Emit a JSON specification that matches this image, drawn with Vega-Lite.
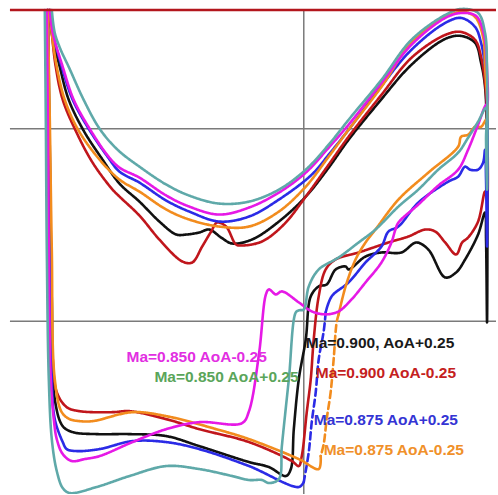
{
"$schema": "https://vega.github.io/schema/vega-lite/v6.json",
"width": 498, "height": 495, "padding": 0,
"autosize": {"type": "fit", "contains": "padding"},
"config": {"view": {"stroke": null}},
"datasets": {
"grid": [
{"x":10,"x2":498,"y":129,"y2":129},
{"x":10,"x2":498,"y":322,"y2":322},
{"x":305,"x2":305,"y":10,"y2":495}
],
"top": [{"x":10,"x2":498,"y":10,"y2":10}],
"labels": [
{"t":"Ma=0.850 AoA-0.25","x":127,"y":358},
{"t":"Ma=0.850 AoA+0.25","x":155,"y":378},
{"t":"Ma=0.900, AoA+0.25","x":307,"y":344},
{"t":"Ma=0.900 AoA-0.25","x":317,"y":374},
{"t":"Ma=0.875 AoA+0.25","x":315,"y":421},
{"t":"Ma=0.875 AoA-0.25","x":325,"y":451}
],
"curves": [
{"s":"K","g":"K1","d":"solid","x":50,"y":10},{"s":"K","g":"K1","d":"solid","x":52,"y":33},{"s":"K","g":"K1","d":"solid","x":60,"y":67},{"s":"K","g":"K1","d":"solid","x":69,"y":100},{"s":"K","g":"K1","d":"solid","x":84,"y":131},{"s":"K","g":"K1","d":"solid","x":103,"y":160},{"s":"K","g":"K1","d":"solid","x":120,"y":184},{"s":"K","g":"K1","d":"solid","x":140,"y":202},{"s":"K","g":"K1","d":"solid","x":160,"y":222},{"s":"K","g":"K1","d":"solid","x":177,"y":235},{"s":"K","g":"K1","d":"solid","x":187,"y":235},{"s":"K","g":"K1","d":"solid","x":200,"y":233},{"s":"K","g":"K1","d":"solid","x":210,"y":230},{"s":"K","g":"K1","d":"solid","x":222,"y":238},{"s":"K","g":"K1","d":"solid","x":233,"y":244},{"s":"K","g":"K1","d":"solid","x":253,"y":240},{"s":"K","g":"K1","d":"solid","x":280,"y":222},{"s":"K","g":"K1","d":"solid","x":307,"y":197},{"s":"K","g":"K1","d":"solid","x":330,"y":168},{"s":"K","g":"K1","d":"solid","x":350,"y":140},{"s":"K","g":"K1","d":"solid","x":380,"y":103},{"s":"K","g":"K1","d":"solid","x":413,"y":65},{"s":"K","g":"K1","d":"solid","x":447,"y":39},{"s":"K","g":"K1","d":"solid","x":463,"y":36},{"s":"K","g":"K1","d":"solid","x":477,"y":43},{"s":"K","g":"K1","d":"solid","x":483,"y":63},{"s":"K","g":"K1","d":"solid","x":487,"y":87},{"s":"K","g":"K1","d":"solid","x":489,"y":150},{"s":"K","g":"K1","d":"solid","x":489,"y":323},{"s":"K","g":"K1","d":"solid","x":488,"y":240},{"s":"K","g":"K1","d":"solid","x":487,"y":213},{"s":"K","g":"K1","d":"solid","x":480,"y":235},{"s":"K","g":"K1","d":"solid","x":467,"y":260},{"s":"K","g":"K1","d":"solid","x":458,"y":273},{"s":"K","g":"K1","d":"solid","x":447,"y":278},{"s":"K","g":"K1","d":"solid","x":430,"y":250},{"s":"K","g":"K1","d":"solid","x":418,"y":243},{"s":"K","g":"K1","d":"solid","x":403,"y":253},{"s":"K","g":"K1","d":"solid","x":383,"y":253},{"s":"K","g":"K1","d":"solid","x":367,"y":257},{"s":"K","g":"K1","d":"solid","x":350,"y":270},{"s":"K","g":"K1","d":"solid","x":347,"y":267},{"s":"K","g":"K1","d":"solid","x":337,"y":270},{"s":"K","g":"K1","d":"solid","x":328,"y":285},{"s":"K","g":"K1","d":"solid","x":320,"y":287},{"s":"K","g":"K1","d":"solid","x":312,"y":297},{"s":"K","g":"K1","d":"solid","x":307,"y":340},{"s":"K","g":"K1","d":"solid","x":300,"y":380},{"s":"K","g":"K1","d":"solid","x":295,"y":430},{"s":"K","g":"K1","d":"solid","x":292,"y":470},{"s":"K","g":"K1","d":"solid","x":287,"y":477},{"s":"K","g":"K1","d":"solid","x":270,"y":468},{"s":"K","g":"K1","d":"solid","x":250,"y":463},{"s":"K","g":"K1","d":"solid","x":200,"y":447},{"s":"K","g":"K1","d":"solid","x":167,"y":437},{"s":"K","g":"K1","d":"solid","x":130,"y":435},{"s":"K","g":"K1","d":"solid","x":97,"y":435},{"s":"K","g":"K1","d":"solid","x":73,"y":433},{"s":"K","g":"K1","d":"solid","x":63,"y":427},{"s":"K","g":"K1","d":"solid","x":55,"y":400},{"s":"K","g":"K1","d":"solid","x":52,"y":300},{"s":"K","g":"K1","d":"solid","x":50,"y":150},{"s":"K","g":"K1","d":"solid","x":48,"y":10},

{"s":"R","g":"R1","d":"solid","x":50,"y":10},{"s":"R","g":"R1","d":"solid","x":52,"y":33},{"s":"R","g":"R1","d":"solid","x":56,"y":67},{"s":"R","g":"R1","d":"solid","x":63,"y":100},{"s":"R","g":"R1","d":"solid","x":76,"y":131},{"s":"R","g":"R1","d":"solid","x":93,"y":163},{"s":"R","g":"R1","d":"solid","x":113,"y":190},{"s":"R","g":"R1","d":"solid","x":120,"y":197},{"s":"R","g":"R1","d":"solid","x":140,"y":216},{"s":"R","g":"R1","d":"solid","x":160,"y":240},{"s":"R","g":"R1","d":"solid","x":183,"y":262},{"s":"R","g":"R1","d":"solid","x":193,"y":263},{"s":"R","g":"R1","d":"solid","x":203,"y":247},{"s":"R","g":"R1","d":"solid","x":212,"y":232},{"s":"R","g":"R1","d":"solid","x":218,"y":223},{"s":"R","g":"R1","d":"solid","x":227,"y":227},{"s":"R","g":"R1","d":"solid","x":237,"y":245},{"s":"R","g":"R1","d":"solid","x":243,"y":246},{"s":"R","g":"R1","d":"solid","x":263,"y":242},{"s":"R","g":"R1","d":"solid","x":285,"y":225},{"s":"R","g":"R1","d":"solid","x":307,"y":197},{"s":"R","g":"R1","d":"solid","x":330,"y":165},{"s":"R","g":"R1","d":"solid","x":350,"y":137},{"s":"R","g":"R1","d":"solid","x":383,"y":95},{"s":"R","g":"R1","d":"solid","x":413,"y":58},{"s":"R","g":"R1","d":"solid","x":447,"y":35},{"s":"R","g":"R1","d":"solid","x":463,"y":32},{"s":"R","g":"R1","d":"solid","x":477,"y":40},{"s":"R","g":"R1","d":"solid","x":483,"y":57},{"s":"R","g":"R1","d":"solid","x":487,"y":83},{"s":"R","g":"R1","d":"solid","x":489,"y":120},{"s":"R","g":"R1","d":"solid","x":489,"y":200},{"s":"R","g":"R1","d":"solid","x":487,"y":192},{"s":"R","g":"R1","d":"solid","x":480,"y":222},{"s":"R","g":"R1","d":"solid","x":470,"y":238},{"s":"R","g":"R1","d":"solid","x":464,"y":243},{"s":"R","g":"R1","d":"solid","x":458,"y":255},{"s":"R","g":"R1","d":"solid","x":447,"y":243},{"s":"R","g":"R1","d":"solid","x":437,"y":232},{"s":"R","g":"R1","d":"solid","x":427,"y":230},{"s":"R","g":"R1","d":"solid","x":410,"y":237},{"s":"R","g":"R1","d":"solid","x":390,"y":243},{"s":"R","g":"R1","d":"solid","x":360,"y":253},{"s":"R","g":"R1","d":"solid","x":337,"y":260},{"s":"R","g":"R1","d":"solid","x":327,"y":270},{"s":"R","g":"R1","d":"solid","x":320,"y":297},{"s":"R","g":"R1","d":"solid","x":315,"y":340},{"s":"R","g":"R1","d":"solid","x":312,"y":380},{"s":"R","g":"R1","d":"solid","x":308,"y":413},{"s":"R","g":"R1","d":"solid","x":303,"y":457},{"s":"R","g":"R1","d":"solid","x":300,"y":467},{"s":"R","g":"R1","d":"solid","x":293,"y":462},{"s":"R","g":"R1","d":"solid","x":250,"y":443},{"s":"R","g":"R1","d":"solid","x":200,"y":430},{"s":"R","g":"R1","d":"solid","x":167,"y":420},{"s":"R","g":"R1","d":"solid","x":130,"y":412},{"s":"R","g":"R1","d":"solid","x":113,"y":413},{"s":"R","g":"R1","d":"solid","x":80,"y":412},{"s":"R","g":"R1","d":"solid","x":67,"y":408},{"s":"R","g":"R1","d":"solid","x":57,"y":393},{"s":"R","g":"R1","d":"solid","x":53,"y":360},{"s":"R","g":"R1","d":"solid","x":51,"y":250},{"s":"R","g":"R1","d":"solid","x":49,"y":120},{"s":"R","g":"R1","d":"solid","x":48,"y":10},

{"s":"B","g":"B1","d":"solid","x":50,"y":10},{"s":"B","g":"B1","d":"solid","x":53,"y":33},{"s":"B","g":"B1","d":"solid","x":62,"y":67},{"s":"B","g":"B1","d":"solid","x":73,"y":100},{"s":"B","g":"B1","d":"solid","x":89,"y":129},{"s":"B","g":"B1","d":"solid","x":108,"y":157},{"s":"B","g":"B1","d":"solid","x":120,"y":172},{"s":"B","g":"B1","d":"solid","x":140,"y":183},{"s":"B","g":"B1","d":"solid","x":167,"y":201},{"s":"B","g":"B1","d":"solid","x":190,"y":212},{"s":"B","g":"B1","d":"solid","x":220,"y":222},{"s":"B","g":"B1","d":"solid","x":250,"y":217},{"s":"B","g":"B1","d":"solid","x":280,"y":200},{"s":"B","g":"B1","d":"solid","x":313,"y":175},{"s":"B","g":"B1","d":"solid","x":330,"y":155},{"s":"B","g":"B1","d":"solid","x":350,"y":130},{"s":"B","g":"B1","d":"solid","x":380,"y":90},{"s":"B","g":"B1","d":"solid","x":413,"y":50},{"s":"B","g":"B1","d":"solid","x":447,"y":23},{"s":"B","g":"B1","d":"solid","x":463,"y":18},{"s":"B","g":"B1","d":"solid","x":477,"y":27},{"s":"B","g":"B1","d":"solid","x":483,"y":43},{"s":"B","g":"B1","d":"solid","x":487,"y":67},{"s":"B","g":"B1","d":"solid","x":489,"y":100},{"s":"B","g":"B1","d":"solid","x":489,"y":247},{"s":"B","g":"B1","d":"solid","x":488,"y":180},{"s":"B","g":"B1","d":"solid","x":487,"y":150},{"s":"B","g":"B1","d":"solid","x":485,"y":163},{"s":"B","g":"B1","d":"solid","x":480,"y":170},{"s":"B","g":"B1","d":"solid","x":472,"y":170},{"s":"B","g":"B1","d":"solid","x":467,"y":167},{"s":"B","g":"B1","d":"solid","x":460,"y":177},{"s":"B","g":"B1","d":"solid","x":450,"y":182},{"s":"B","g":"B1","d":"solid","x":420,"y":203},{"s":"B","g":"B1","d":"solid","x":400,"y":227},{"s":"B","g":"B1","d":"solid","x":390,"y":232},{"s":"B","g":"B1","d":"solid","x":383,"y":247},{"s":"B","g":"B1","d":"solid","x":367,"y":263},{"s":"B","g":"B1","d":"solid","x":350,"y":283},{"s":"B","g":"B1","d":"solid","x":333,"y":297},{"s":"B","g":"B1","d":"solid","x":327,"y":313},
{"s":"B","g":"B2","d":"dash","x":327,"y":313},{"s":"B","g":"B2","d":"dash","x":325,"y":332},{"s":"B","g":"B2","d":"dash","x":320,"y":360},{"s":"B","g":"B2","d":"dash","x":317,"y":393},{"s":"B","g":"B2","d":"dash","x":313,"y":423},{"s":"B","g":"B2","d":"dash","x":310,"y":453},{"s":"B","g":"B2","d":"dash","x":305,"y":483},
{"s":"B","g":"B3","d":"solid","x":305,"y":483},{"s":"B","g":"B3","d":"solid","x":300,"y":488},{"s":"B","g":"B3","d":"solid","x":250,"y":467},{"s":"B","g":"B3","d":"solid","x":200,"y":450},{"s":"B","g":"B3","d":"solid","x":167,"y":443},{"s":"B","g":"B3","d":"solid","x":133,"y":442},{"s":"B","g":"B3","d":"solid","x":100,"y":450},{"s":"B","g":"B3","d":"solid","x":77,"y":452},{"s":"B","g":"B3","d":"solid","x":67,"y":450},{"s":"B","g":"B3","d":"solid","x":63,"y":443},{"s":"B","g":"B3","d":"solid","x":55,"y":420},{"s":"B","g":"B3","d":"solid","x":52,"y":380},{"s":"B","g":"B3","d":"solid","x":50,"y":250},{"s":"B","g":"B3","d":"solid","x":49,"y":120},{"s":"B","g":"B3","d":"solid","x":48,"y":10},

{"s":"O","g":"O1","d":"solid","x":50,"y":10},{"s":"O","g":"O1","d":"solid","x":52,"y":33},{"s":"O","g":"O1","d":"solid","x":57,"y":67},{"s":"O","g":"O1","d":"solid","x":65,"y":100},{"s":"O","g":"O1","d":"solid","x":79,"y":131},{"s":"O","g":"O1","d":"solid","x":100,"y":160},{"s":"O","g":"O1","d":"solid","x":120,"y":180},{"s":"O","g":"O1","d":"solid","x":140,"y":192},{"s":"O","g":"O1","d":"solid","x":167,"y":210},{"s":"O","g":"O1","d":"solid","x":190,"y":220},{"s":"O","g":"O1","d":"solid","x":220,"y":227},{"s":"O","g":"O1","d":"solid","x":250,"y":227},{"s":"O","g":"O1","d":"solid","x":280,"y":212},{"s":"O","g":"O1","d":"solid","x":307,"y":187},{"s":"O","g":"O1","d":"solid","x":330,"y":157},{"s":"O","g":"O1","d":"solid","x":350,"y":130},{"s":"O","g":"O1","d":"solid","x":383,"y":87},{"s":"O","g":"O1","d":"solid","x":413,"y":43},{"s":"O","g":"O1","d":"solid","x":447,"y":17},{"s":"O","g":"O1","d":"solid","x":465,"y":12},{"s":"O","g":"O1","d":"solid","x":477,"y":17},{"s":"O","g":"O1","d":"solid","x":485,"y":37},{"s":"O","g":"O1","d":"solid","x":487,"y":67},{"s":"O","g":"O1","d":"solid","x":489,"y":120},{"s":"O","g":"O1","d":"solid","x":488,"y":120},{"s":"O","g":"O1","d":"solid","x":483,"y":127},{"s":"O","g":"O1","d":"solid","x":477,"y":127},{"s":"O","g":"O1","d":"solid","x":470,"y":135},{"s":"O","g":"O1","d":"solid","x":463,"y":137},{"s":"O","g":"O1","d":"solid","x":460,"y":147},{"s":"O","g":"O1","d":"solid","x":430,"y":173},{"s":"O","g":"O1","d":"solid","x":400,"y":200},{"s":"O","g":"O1","d":"solid","x":377,"y":230},{"s":"O","g":"O1","d":"solid","x":367,"y":243},{"s":"O","g":"O1","d":"solid","x":357,"y":260},{"s":"O","g":"O1","d":"solid","x":347,"y":287},{"s":"O","g":"O1","d":"solid","x":340,"y":315},
{"s":"O","g":"O2","d":"dash","x":340,"y":315},{"s":"O","g":"O2","d":"dash","x":338,"y":323},{"s":"O","g":"O2","d":"dash","x":335,"y":360},{"s":"O","g":"O2","d":"dash","x":332,"y":393},{"s":"O","g":"O2","d":"dash","x":328,"y":420},{"s":"O","g":"O2","d":"dash","x":325,"y":445},{"s":"O","g":"O2","d":"dash","x":322,"y":457},
{"s":"O","g":"O3","d":"solid","x":322,"y":457},{"s":"O","g":"O3","d":"solid","x":320,"y":470},{"s":"O","g":"O3","d":"solid","x":300,"y":460},{"s":"O","g":"O3","d":"solid","x":250,"y":440},{"s":"O","g":"O3","d":"solid","x":217,"y":430},{"s":"O","g":"O3","d":"solid","x":167,"y":417},{"s":"O","g":"O3","d":"solid","x":133,"y":413},{"s":"O","g":"O3","d":"solid","x":93,"y":422},{"s":"O","g":"O3","d":"solid","x":80,"y":422},{"s":"O","g":"O3","d":"solid","x":70,"y":420},{"s":"O","g":"O3","d":"solid","x":62,"y":413},{"s":"O","g":"O3","d":"solid","x":55,"y":380},{"s":"O","g":"O3","d":"solid","x":52,"y":250},{"s":"O","g":"O3","d":"solid","x":50,"y":120},{"s":"O","g":"O3","d":"solid","x":48,"y":10},

{"s":"M","g":"M1","d":"solid","x":50,"y":10},{"s":"M","g":"M1","d":"solid","x":53,"y":33},{"s":"M","g":"M1","d":"solid","x":63,"y":67},{"s":"M","g":"M1","d":"solid","x":74,"y":100},{"s":"M","g":"M1","d":"solid","x":90,"y":129},{"s":"M","g":"M1","d":"solid","x":109,"y":157},{"s":"M","g":"M1","d":"solid","x":120,"y":168},{"s":"M","g":"M1","d":"solid","x":140,"y":178},{"s":"M","g":"M1","d":"solid","x":167,"y":196},{"s":"M","g":"M1","d":"solid","x":190,"y":207},{"s":"M","g":"M1","d":"solid","x":220,"y":215},{"s":"M","g":"M1","d":"solid","x":250,"y":208},{"s":"M","g":"M1","d":"solid","x":280,"y":193},{"s":"M","g":"M1","d":"solid","x":307,"y":173},{"s":"M","g":"M1","d":"solid","x":330,"y":148},{"s":"M","g":"M1","d":"solid","x":350,"y":125},{"s":"M","g":"M1","d":"solid","x":383,"y":83},{"s":"M","g":"M1","d":"solid","x":413,"y":45},{"s":"M","g":"M1","d":"solid","x":447,"y":18},{"s":"M","g":"M1","d":"solid","x":463,"y":13},{"s":"M","g":"M1","d":"solid","x":478,"y":16},{"s":"M","g":"M1","d":"solid","x":486,"y":35},{"s":"M","g":"M1","d":"solid","x":489,"y":70},{"s":"M","g":"M1","d":"solid","x":489,"y":105},{"s":"M","g":"M1","d":"solid","x":488,"y":105},{"s":"M","g":"M1","d":"solid","x":480,"y":125},{"s":"M","g":"M1","d":"solid","x":470,"y":150},{"s":"M","g":"M1","d":"solid","x":460,"y":170},{"s":"M","g":"M1","d":"solid","x":440,"y":186},{"s":"M","g":"M1","d":"solid","x":420,"y":205},{"s":"M","g":"M1","d":"solid","x":400,"y":223},{"s":"M","g":"M1","d":"solid","x":397,"y":230},{"s":"M","g":"M1","d":"solid","x":393,"y":243},{"s":"M","g":"M1","d":"solid","x":383,"y":263},{"s":"M","g":"M1","d":"solid","x":367,"y":283},{"s":"M","g":"M1","d":"solid","x":353,"y":300},{"s":"M","g":"M1","d":"solid","x":340,"y":312},{"s":"M","g":"M1","d":"solid","x":327,"y":315},{"s":"M","g":"M1","d":"solid","x":313,"y":312},{"s":"M","g":"M1","d":"solid","x":300,"y":303},{"s":"M","g":"M1","d":"solid","x":283,"y":292},{"s":"M","g":"M1","d":"solid","x":277,"y":295},{"s":"M","g":"M1","d":"solid","x":270,"y":290},{"s":"M","g":"M1","d":"solid","x":267,"y":295},{"s":"M","g":"M1","d":"solid","x":260,"y":355},{"s":"M","g":"M1","d":"solid","x":250,"y":412},{"s":"M","g":"M1","d":"solid","x":243,"y":424},{"s":"M","g":"M1","d":"solid","x":200,"y":423},{"s":"M","g":"M1","d":"solid","x":167,"y":430},{"s":"M","g":"M1","d":"solid","x":133,"y":443},{"s":"M","g":"M1","d":"solid","x":100,"y":457},{"s":"M","g":"M1","d":"solid","x":85,"y":460},{"s":"M","g":"M1","d":"solid","x":72,"y":462},{"s":"M","g":"M1","d":"solid","x":63,"y":455},{"s":"M","g":"M1","d":"solid","x":57,"y":440},{"s":"M","g":"M1","d":"solid","x":54,"y":420},{"s":"M","g":"M1","d":"solid","x":51,"y":380},{"s":"M","g":"M1","d":"solid","x":49,"y":250},{"s":"M","g":"M1","d":"solid","x":48,"y":120},{"s":"M","g":"M1","d":"solid","x":47,"y":10},

{"s":"T","g":"T1","d":"solid","x":52,"y":10},{"s":"T","g":"T1","d":"solid","x":55,"y":33},{"s":"T","g":"T1","d":"solid","x":61,"y":50},{"s":"T","g":"T1","d":"solid","x":69,"y":67},{"s":"T","g":"T1","d":"solid","x":84,"y":100},{"s":"T","g":"T1","d":"solid","x":100,"y":129},{"s":"T","g":"T1","d":"solid","x":118,"y":150},{"s":"T","g":"T1","d":"solid","x":140,"y":167},{"s":"T","g":"T1","d":"solid","x":167,"y":185},{"s":"T","g":"T1","d":"solid","x":190,"y":196},{"s":"T","g":"T1","d":"solid","x":220,"y":204},{"s":"T","g":"T1","d":"solid","x":250,"y":202},{"s":"T","g":"T1","d":"solid","x":280,"y":190},{"s":"T","g":"T1","d":"solid","x":307,"y":170},{"s":"T","g":"T1","d":"solid","x":330,"y":145},{"s":"T","g":"T1","d":"solid","x":350,"y":120},{"s":"T","g":"T1","d":"solid","x":383,"y":80},{"s":"T","g":"T1","d":"solid","x":413,"y":40},{"s":"T","g":"T1","d":"solid","x":447,"y":15},{"s":"T","g":"T1","d":"solid","x":463,"y":9},{"s":"T","g":"T1","d":"solid","x":480,"y":13},{"s":"T","g":"T1","d":"solid","x":487,"y":33},{"s":"T","g":"T1","d":"solid","x":489,"y":70},{"s":"T","g":"T1","d":"solid","x":489,"y":190},{"s":"T","g":"T1","d":"solid","x":488,"y":140},{"s":"T","g":"T1","d":"solid","x":488,"y":108},{"s":"T","g":"T1","d":"solid","x":480,"y":122},{"s":"T","g":"T1","d":"solid","x":470,"y":138},{"s":"T","g":"T1","d":"solid","x":460,"y":153},{"s":"T","g":"T1","d":"solid","x":440,"y":170},{"s":"T","g":"T1","d":"solid","x":420,"y":190},{"s":"T","g":"T1","d":"solid","x":400,"y":207},{"s":"T","g":"T1","d":"solid","x":377,"y":230},{"s":"T","g":"T1","d":"solid","x":360,"y":243},{"s":"T","g":"T1","d":"solid","x":340,"y":258},{"s":"T","g":"T1","d":"solid","x":320,"y":270},{"s":"T","g":"T1","d":"solid","x":310,"y":287},{"s":"T","g":"T1","d":"solid","x":305,"y":310},{"s":"T","g":"T1","d":"solid","x":300,"y":311},{"s":"T","g":"T1","d":"solid","x":297,"y":313},{"s":"T","g":"T1","d":"solid","x":290,"y":380},{"s":"T","g":"T1","d":"solid","x":283,"y":447},{"s":"T","g":"T1","d":"solid","x":280,"y":480},{"s":"T","g":"T1","d":"solid","x":270,"y":484},{"s":"T","g":"T1","d":"solid","x":263,"y":481},{"s":"T","g":"T1","d":"solid","x":250,"y":481},{"s":"T","g":"T1","d":"solid","x":233,"y":477},{"s":"T","g":"T1","d":"solid","x":200,"y":470},{"s":"T","g":"T1","d":"solid","x":167,"y":467},{"s":"T","g":"T1","d":"solid","x":130,"y":477},{"s":"T","g":"T1","d":"solid","x":97,"y":488},{"s":"T","g":"T1","d":"solid","x":70,"y":494},{"s":"T","g":"T1","d":"solid","x":63,"y":489},{"s":"T","g":"T1","d":"solid","x":57,"y":472},{"s":"T","g":"T1","d":"solid","x":52,"y":440},{"s":"T","g":"T1","d":"solid","x":49,"y":380},{"s":"T","g":"T1","d":"solid","x":47,"y":250},{"s":"T","g":"T1","d":"solid","x":46,"y":120},{"s":"T","g":"T1","d":"solid","x":45,"y":10}
]
},
"resolve": {"scale": {"color": "independent"}},
"layer": [
{
"data": {"name": "grid"},
"mark": {"type": "rule", "color": "#7a7a7a", "strokeWidth": 1.5},
"encoding": {
"x": {"field": "x", "type": "quantitative", "scale": {"domain": [0, 498], "nice": false, "zero": false}, "axis": null},
"x2": {"field": "x2"},
"y": {"field": "y", "type": "quantitative", "scale": {"domain": [0, 495], "nice": false, "zero": false, "reverse": true}, "axis": null},
"y2": {"field": "y2"}
}
},
{
"data": {"name": "curves"},
"mark": {"type": "line", "strokeWidth": 2.6, "strokeJoin": "round", "strokeCap": "round", "clip": true, "interpolate": "catmull-rom"},
"encoding": {
"x": {"field": "x", "type": "quantitative"},
"y": {"field": "y", "type": "quantitative"},
"detail": {"field": "g"},
"order": {"value": null},
"color": {"field": "s", "type": "nominal", "legend": null,
"scale": {"domain": ["K", "R", "B", "O", "M", "T"], "range": ["#111111", "#c0161c", "#2b2be6", "#f28c1e", "#e619e6", "#5fa9a9"]}},
"strokeDash": {"field": "d", "type": "nominal", "legend": null,
"scale": {"domain": ["solid", "dash"], "range": [[1, 0], [7, 4]]}}
}
},
{
"data": {"name": "top"},
"mark": {"type": "rule", "color": "#b3161c", "strokeWidth": 2.5},
"encoding": {
"x": {"field": "x", "type": "quantitative"},
"x2": {"field": "x2"},
"y": {"field": "y", "type": "quantitative"},
"y2": {"field": "y2"}
}
},
{
"data": {"name": "labels"},
"mark": {"type": "text", "align": "left", "baseline": "middle", "font": "Liberation Sans", "fontSize": 15.5, "fontWeight": "bold"},
"encoding": {
"x": {"field": "x", "type": "quantitative"},
"y": {"field": "y", "type": "quantitative"},
"text": {"field": "t"},
"color": {"field": "t", "type": "nominal", "legend": null,
"scale": {"domain": ["Ma=0.850 AoA-0.25", "Ma=0.850 AoA+0.25", "Ma=0.900, AoA+0.25", "Ma=0.900 AoA-0.25", "Ma=0.875 AoA+0.25", "Ma=0.875 AoA-0.25"],
"range": ["#e22ee2", "#5aa55a", "#1a1a1a", "#c42020", "#3434d4", "#f0902a"]}}
}
}
]
}
